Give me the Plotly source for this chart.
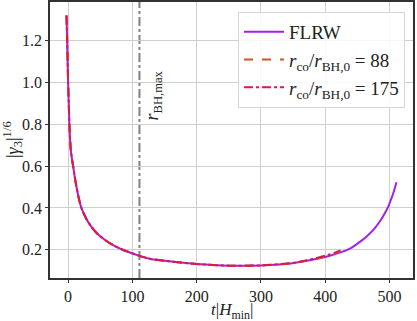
from __future__ import annotations

import plotly.graph_objects as go

# -------------------------------------------------------------------
# Dados
# -------------------------------------------------------------------
t_flrw = [-2.5, -2, -1.5, -0.8, 0, 1, 2, 3, 4.2, 6, 7.8, 10, 12, 16, 20.7,
          28, 36, 45, 57, 70, 85, 111, 127, 150, 200, 250, 300, 349, 400,
          426, 440, 455, 465, 475, 485, 492, 498, 503, 507, 511]
gamma_flrw = [1.32, 1.26, 1.2, 1.1, 1.0, 0.9, 0.8, 0.73, 0.677, 0.635, 0.6,
              0.555, 0.518, 0.455, 0.4, 0.35, 0.311, 0.278, 0.248, 0.222, 0.2,
              0.171, 0.157, 0.147, 0.132, 0.124, 0.125, 0.136, 0.165, 0.19,
              0.208, 0.24, 0.265, 0.295, 0.335, 0.37, 0.405, 0.445, 0.48, 0.523]

t_co88 = [-2.5, -2, -1.5, -0.8, 0, 1, 2, 3, 4.2, 6, 7.8, 10, 12, 16, 20.7,
          28, 36, 45, 57, 70, 85, 111, 127, 150, 200, 250, 300, 349, 370,
          390, 405, 415, 422]
gamma_co88 = [1.32, 1.26, 1.2, 1.1, 1.0, 0.9, 0.8, 0.73, 0.677, 0.635, 0.6,
              0.555, 0.518, 0.455, 0.4, 0.35, 0.311, 0.278, 0.248, 0.222, 0.2,
              0.171, 0.157, 0.147, 0.132, 0.124, 0.125, 0.136, 0.147, 0.16,
              0.172, 0.182, 0.19]

t_co175 = [-2.5, -2, -1.5, -0.8, 0, 1, 2, 3, 4.2, 6, 7.8, 10, 12, 16, 20.7,
           28, 36, 45, 57, 70, 85, 111, 127, 150, 200, 250, 300, 349, 370,
           390, 405, 415, 424]
gamma_co175 = [1.32, 1.26, 1.2, 1.1, 1.0, 0.9, 0.8, 0.73, 0.677, 0.635, 0.6,
               0.555, 0.518, 0.455, 0.4, 0.35, 0.311, 0.278, 0.248, 0.222, 0.2,
               0.171, 0.157, 0.147, 0.132, 0.124, 0.125, 0.137, 0.149, 0.163,
               0.176, 0.186, 0.197]

r_bh_max = 111

x_ticks = [0, 100, 200, 300, 400, 500]
y_ticks = [0.2, 0.4, 0.6, 0.8, 1.0, 1.2]

FONT = "Liberation Serif"


def build_axis(ticks: list, tick_format: str, rng: list) -> dict:
    # eixo no estilo matplotlib: moldura escura, grade clara
    return dict(
        range=rng,
        tickvals=ticks,
        tickformat=tick_format,
        tickfont=dict(size=16),
        ticks="outside",
        ticklen=3,
        tickcolor="#333333",
        showgrid=True,
        gridcolor="#cfcfcf",
        gridwidth=1,
        zeroline=False,
        showline=True,
        mirror=True,
        linecolor="#333333",
        linewidth=1.5,
        automargin=False,
    )


figure = go.Figure()

figure.add_trace(
    go.Scatter(
        x=t_flrw, y=gamma_flrw, mode="lines", name="FLRW",
        line=dict(color="#a020f0", width=2, shape="spline", smoothing=0.6),
    )
)
figure.add_trace(
    go.Scatter(
        x=t_co88, y=gamma_co88, mode="lines",
        name="<i>r</i><sub>co</sub>/<i>r</i><sub>BH,0</sub> = 88",
        line=dict(color="#c65a1e", width=2, dash="dash", shape="spline", smoothing=0.6),
    )
)
figure.add_trace(
    go.Scatter(
        x=t_co175, y=gamma_co175, mode="lines",
        name="<i>r</i><sub>co</sub>/<i>r</i><sub>BH,0</sub> = 175",
        line=dict(color="#e0174a", width=2, dash="dashdot", shape="spline", smoothing=0.6),
    )
)

# linha vertical do raio máximo do buraco negro
figure.add_shape(
    type="line", x0=r_bh_max, x1=r_bh_max, y0=0, y1=1,
    xref="x", yref="paper", layer="between",
    line=dict(color="#808080", width=2, dash="dashdot"),
)
figure.add_annotation(
    x=r_bh_max, y=0.94, xref="x", yref="y",
    text="<i>r</i><sub>BH,max</sub>", textangle=-90,
    showarrow=False, xshift=14, font=dict(size=18, color="#222222"),
)

# títulos dos eixos como anotações, para controlar a posição
figure.add_annotation(
    x=0.5, y=0, xref="paper", yref="paper", yanchor="top", yshift=-20,
    text="<i>t</i>|<i>H</i><sub>min</sub>|", showarrow=False,
    font=dict(size=17, color="#222222"),
)
figure.add_annotation(
    x=0, y=0.5, xref="paper", yref="paper", xanchor="center", xshift=-38,
    text="|<i>γ</i><sub>3</sub>|<sup>1/6</sup>", textangle=-90, showarrow=False,
    font=dict(size=18, color="#222222"),
)

figure.update_layout(
    width=417,
    height=321,
    margin=dict(l=50, r=4, t=2, b=43),
    paper_bgcolor="white",
    plot_bgcolor="white",
    font=dict(family=FONT, color="#222222", size=16),
    xaxis=build_axis(x_ticks, "d", [-28.2, 536.7]),
    yaxis=build_axis(y_ticks, ".1f", [0.065, 1.385]),
    legend=dict(
        x=0.978, xanchor="right",
        y=0.964, yanchor="top",
        bgcolor="rgba(255,255,255,0.85)",
        bordercolor="#d6d6d6",
        borderwidth=1,
        font=dict(size=19),
        itemwidth=40,
    ),
    showlegend=True,
)

# a margem padrão do <body> desloca a figura 8px; zera isso
figure.write_html(
    "out.html",
    config={"displayModeBar": False},
    post_script="document.body.style.margin='0';",
)
